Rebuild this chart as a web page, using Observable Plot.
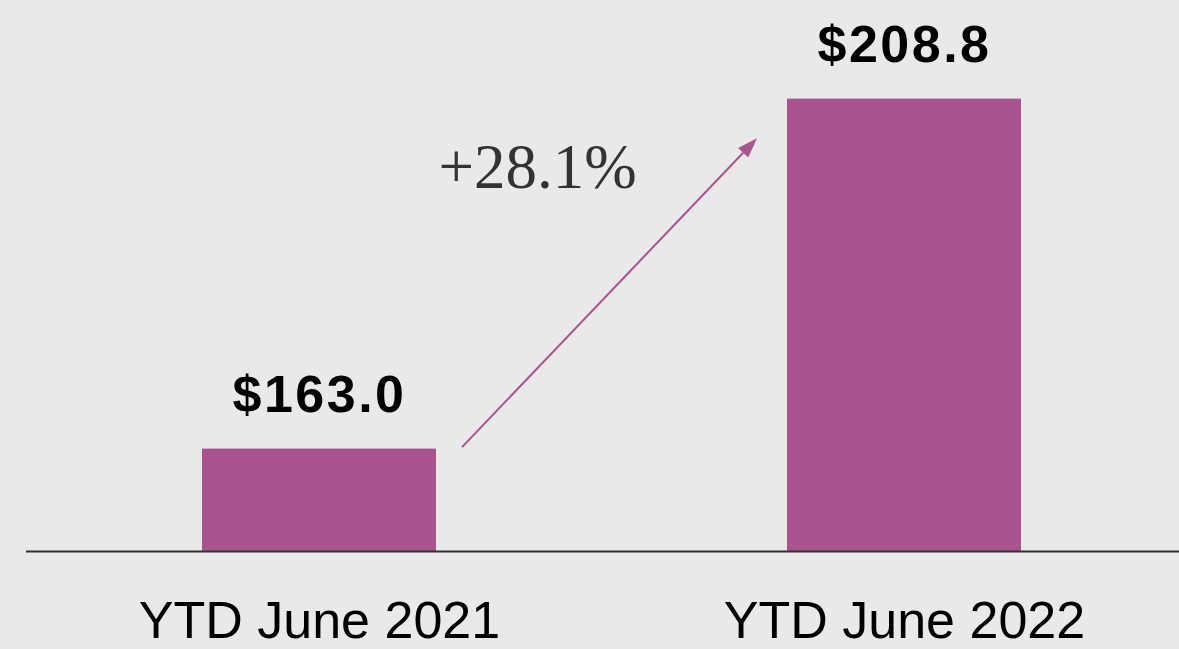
<!DOCTYPE html>
<html>
<head>
<meta charset="utf-8">
<script src="https://cdn.jsdelivr.net/npm/d3@7"></script>
<script src="https://cdn.jsdelivr.net/npm/@observablehq/plot@0.6"></script>
<style>
  html, body { margin: 0; padding: 0; background: #E9E9E9; }
  #chart svg { display: block; background: #E9E9E9; }
  g[aria-label="x-axis tick label"] { font: 52px "Liberation Sans", Arial, sans-serif; fill: #000; }
  .vlabel text { letter-spacing: 2.5px; }
</style>
</head>
<body>
<div id="chart"></div>
<script>
// ---- data ----
const categories = ["YTD June 2021", "YTD June 2022"];
const values = [163.0, 208.8];
const valueLabels = ["$163.0", "$208.8"];
const changeLabel = "+28.1%";
const arrowFrom = 163.0;   // arrow start level (value units)
const arrowTo = 203.6;     // arrow tip level (value units)
const yBase = 149.6;       // truncated axis base
const yTop = 221.7;

const data = categories.map((c, i) => ({cat: c, value: values[i], label: valueLabels[i]}));

const W = 1179, H = 649;
const barColor = "#A9548F";

const chart = Plot.plot({
  width: W,
  height: H,
  marginLeft: 26,
  marginRight: 0,
  marginTop: 0,
  marginBottom: 98,
  style: {background: "#E9E9E9", overflow: "visible"},
  x: {domain: categories, paddingInner: 0.6, paddingOuter: 0.2846, align: 0.528,
      tickSize: 0, tickPadding: 50, label: null},
  y: {domain: [yBase, yTop], axis: null},
  marks: [
    Plot.barY(data, {x: "cat", y1: yBase, y2: "value", fill: barColor}),
    Plot.ruleY([yBase], {stroke: "#333", strokeWidth: 2}),
    Plot.text(data, {x: "cat", y: "value", text: "label", lineAnchor: "bottom", dy: -37,
      fontSize: 52, fontWeight: "bold", fontFamily: "Liberation Sans, Arial, sans-serif",
      fill: "#000", className: "vlabel"}),
    Plot.text([changeLabel], {frameAnchor: "top-left", dx: 511, dy: 187, textAnchor: "middle",
      lineAnchor: "bottom", fontSize: 63, fontFamily: "Liberation Serif, Times New Roman, serif",
      fill: "#333"})
  ]
});

document.getElementById("chart").appendChild(chart);

// arrow drawn from the plot's own scales
const sx = chart.scale("x"), sy = chart.scale("y");
const x0 = sx.apply(categories[0]) + sx.bandwidth + 26;
const y0 = sy.apply(arrowFrom) - 1.5;
const x1 = sx.apply(categories[1]) - 30;
const y1 = sy.apply(arrowTo);
const ang = Math.atan2(y1 - y0, x1 - x0);
const headLen = 20, headHalf = 7;
const bx = x1 - headLen * Math.cos(ang), by = y1 - headLen * Math.sin(ang);
const px = -Math.sin(ang) * headHalf, py = Math.cos(ang) * headHalf;
const g = d3.select(chart).append("g").attr("aria-label", "arrow");
g.append("line").attr("x1", x0).attr("y1", y0).attr("x2", bx).attr("y2", by)
  .attr("stroke", barColor).attr("stroke-width", 2);
g.append("polygon")
  .attr("points", `${x1},${y1} ${bx + px},${by + py} ${bx - px},${by - py}`)
  .attr("fill", barColor);
</script>
</body>
</html>
